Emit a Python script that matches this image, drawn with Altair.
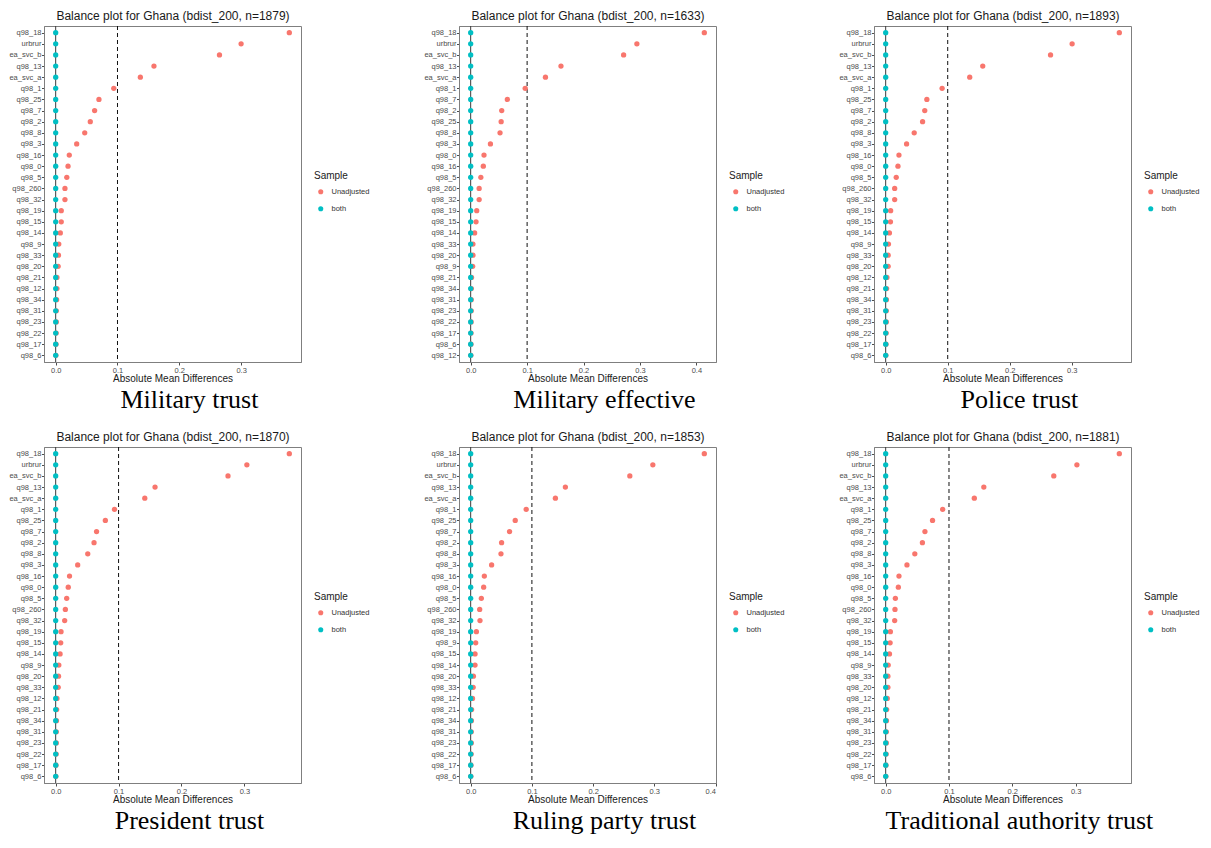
import altair as alt
import pandas as pd

captions = ["Military trust", "Military effective", "Police trust",
            "President trust", "Ruling party trust", "Traditional authority trust"]
sample_sizes = [1879, 1633, 1893, 1870, 1853, 1881]
legend_levels = ["Unadjusted", "both"]
legend_colors = ["#F8766D", "#00BFC4"]
threshold = [0.1]
zero_line = [0.0]
x_ticks = [0.0, 0.1, 0.2, 0.3, 0.4]

vars_mt = ["q98_18", "urbrur", "ea_svc_b", "q98_13", "ea_svc_a", "q98_1", "q98_25", "q98_7", "q98_2", "q98_8",
           "q98_3", "q98_16", "q98_0", "q98_5", "q98_260", "q98_32", "q98_19", "q98_15", "q98_14", "q98_9",
           "q98_33", "q98_20", "q98_21", "q98_12", "q98_34", "q98_31", "q98_23", "q98_22", "q98_17", "q98_6"]
unadj_mt = [0.378, 0.300, 0.265, 0.159, 0.137, 0.094, 0.070, 0.063, 0.056, 0.047,
            0.034, 0.022, 0.020, 0.018, 0.015, 0.015, 0.009, 0.009, 0.0075, 0.005,
            0.0045, 0.004, 0.002, 0.002, 0.0015, 0.001, 0.001, 0.0008, 0.0005, 0.0003]

vars_me = ["q98_18", "urbrur", "ea_svc_b", "q98_13", "ea_svc_a", "q98_1", "q98_7", "q98_2", "q98_25", "q98_8",
           "q98_3", "q98_0", "q98_16", "q98_5", "q98_260", "q98_32", "q98_19", "q98_15", "q98_14", "q98_33",
           "q98_20", "q98_9", "q98_21", "q98_34", "q98_31", "q98_23", "q98_22", "q98_17", "q98_6", "q98_12"]
unadj_me = [0.414, 0.2945, 0.271, 0.160, 0.1325, 0.0966, 0.065, 0.055, 0.054, 0.052,
            0.035, 0.0236, 0.0224, 0.018, 0.015, 0.015, 0.0107, 0.0095, 0.007, 0.004,
            0.004, 0.0035, 0.0015, 0.0012, 0.001, 0.001, 0.0008, 0.0006, 0.0005, 0.0003]

vars_pt = ["q98_18", "urbrur", "ea_svc_b", "q98_13", "ea_svc_a", "q98_1", "q98_25", "q98_7", "q98_2", "q98_8",
           "q98_3", "q98_16", "q98_0", "q98_5", "q98_260", "q98_32", "q98_19", "q98_15", "q98_14", "q98_9",
           "q98_33", "q98_20", "q98_12", "q98_21", "q98_34", "q98_31", "q98_23", "q98_22", "q98_17", "q98_6"]
unadj_pt = [0.3767, 0.3006, 0.2658, 0.1565, 0.1355, 0.091, 0.0664, 0.063, 0.0595, 0.046,
            0.0337, 0.0214, 0.0198, 0.017, 0.0145, 0.0145, 0.008, 0.0077, 0.006, 0.0045,
            0.004, 0.004, 0.002, 0.0015, 0.0012, 0.001, 0.001, 0.0008, 0.0005, 0.0003]

vars_pr = ["q98_18", "urbrur", "ea_svc_b", "q98_13", "ea_svc_a", "q98_1", "q98_25", "q98_7", "q98_2", "q98_8",
           "q98_3", "q98_16", "q98_0", "q98_5", "q98_260", "q98_32", "q98_19", "q98_15", "q98_14", "q98_9",
           "q98_20", "q98_33", "q98_12", "q98_21", "q98_34", "q98_31", "q98_23", "q98_22", "q98_17", "q98_6"]
unadj_pr = [0.3715, 0.304, 0.274, 0.158, 0.1417, 0.0935, 0.079, 0.065, 0.061, 0.051,
            0.035, 0.022, 0.020, 0.0175, 0.0154, 0.0143, 0.0085, 0.008, 0.007, 0.005,
            0.0045, 0.004, 0.002, 0.0015, 0.0012, 0.001, 0.001, 0.0008, 0.0005, 0.0003]

vars_rp = ["q98_18", "urbrur", "ea_svc_b", "q98_13", "ea_svc_a", "q98_1", "q98_25", "q98_7", "q98_2", "q98_8",
           "q98_3", "q98_16", "q98_0", "q98_5", "q98_260", "q98_32", "q98_19", "q98_9", "q98_15", "q98_14",
           "q98_20", "q98_33", "q98_12", "q98_21", "q98_34", "q98_31", "q98_23", "q98_22", "q98_17", "q98_6"]
unadj_rp = [0.3817, 0.2976, 0.260, 0.1547, 0.1384, 0.0907, 0.0728, 0.0635, 0.0505, 0.0495,
            0.0342, 0.0223, 0.0212, 0.0174, 0.0147, 0.0152, 0.0093, 0.0082, 0.0071, 0.0071,
            0.0044, 0.004, 0.003, 0.0015, 0.0012, 0.001, 0.001, 0.0008, 0.0005, 0.0003]

vars_ta = ["q98_18", "urbrur", "ea_svc_b", "q98_13", "ea_svc_a", "q98_1", "q98_25", "q98_7", "q98_2", "q98_8",
           "q98_3", "q98_16", "q98_0", "q98_5", "q98_260", "q98_32", "q98_19", "q98_15", "q98_14", "q98_9",
           "q98_33", "q98_20", "q98_12", "q98_21", "q98_34", "q98_31", "q98_23", "q98_22", "q98_17", "q98_6"]
unadj_ta = [0.369, 0.302, 0.2655, 0.155, 0.140, 0.090, 0.074, 0.062, 0.058, 0.046,
            0.0336, 0.021, 0.020, 0.0153, 0.0147, 0.0142, 0.0074, 0.007, 0.006, 0.004,
            0.0035, 0.0035, 0.0025, 0.0015, 0.0012, 0.001, 0.001, 0.0008, 0.0005, 0.0003]

adjusted = [0.0, 0.0, 0.0, 0.0, 0.0, 0.0, 0.0, 0.0, 0.0, 0.0,
            0.0, 0.0, 0.0, 0.0, 0.0, 0.0, 0.0, 0.0, 0.0, 0.0,
            0.0, 0.0, 0.0, 0.0, 0.0, 0.0, 0.0, 0.0, 0.0, 0.0]

panel_vars = [vars_mt, vars_me, vars_pt, vars_pr, vars_rp, vars_ta]
panel_unadj = [unadj_mt, unadj_me, unadj_pt, unadj_pr, unadj_rp, unadj_ta]

SANS = "Liberation Sans"
SERIF = "Liberation Serif"
W, H = 257, 336


def panel(vars_, unadj, n, caption):
    df = pd.DataFrame({
        "variable": list(vars_) + list(vars_),
        "value": list(unadj) + adjusted,
        "Sample": [legend_levels[0]] * len(vars_) + [legend_levels[1]] * len(vars_),
    })
    vmax = max(unadj)
    dom = [-0.05 * vmax, 1.05 * vmax]
    xscale = alt.Scale(domain=dom, nice=False, zero=False)
    ticks = [t for t in x_ticks if t <= dom[1] + 1e-9]

    bottom_axis = alt.Axis(title="Absolute Mean Differences", values=ticks, format=".1f",
                           grid=False, titlePadding=0, labelPadding=1)
    top_axis = alt.Axis(orient="top", title=f"Balance plot for Ghana (bdist_200, n={n})",
                        labels=False, ticks=False, domain=False, grid=False,
                        titleFontSize=12, titlePadding=4, titleFont=SANS,
                        titleFontWeight="normal", titleColor="#1a1a1a")

    dash = alt.Chart(pd.DataFrame({"x": threshold})).mark_rule(
        color="#111111", strokeDash=[4, 3], strokeWidth=1
    ).encode(x=alt.X("x:Q", scale=xscale, axis=top_axis))

    zero = alt.Chart(pd.DataFrame({"x": zero_line})).mark_rule(
        color="#3a3a3a", strokeWidth=1
    ).encode(x=alt.X("x:Q", scale=xscale, axis=None))

    pts = alt.Chart(df).mark_circle(size=28, opacity=1).encode(
        x=alt.X("value:Q", scale=xscale, axis=bottom_axis),
        y=alt.Y("variable:N", sort=list(vars_),
                scale=alt.Scale(type="point", padding=0.6),
                axis=alt.Axis(title=None, grid=False, labelPadding=0.5, tickSize=2.5)),
        color=alt.Color("Sample:N",
                        scale=alt.Scale(domain=legend_levels, range=legend_colors),
                        legend=alt.Legend(orient="none", legendX=270, legendY=145,
                                          title="Sample", titleFont=SANS, titleFontSize=10,
                                          titleFontWeight="normal", titleColor="#1a1a1a",
                                          titlePadding=7, labelFont=SANS, labelFontSize=7.5,
                                          labelColor="#333333", symbolType="circle",
                                          symbolSize=26, symbolStrokeWidth=0,
                                          symbolOpacity=1, symbolOffset=3, labelOffset=7,
                                          rowPadding=8, padding=0)),
    )

    return alt.layer(dash, zero, pts).resolve_axis(x="independent").properties(
        width=W, height=H,
        title=alt.TitleParams(caption, orient="bottom", anchor="middle", frame="bounds",
                              font=SERIF, fontSize=26, fontWeight="normal",
                              color="black", offset=3),
    )


panels = [panel(v, u, n, c) for v, u, n, c in zip(panel_vars, panel_unadj, sample_sizes, captions)]

chart = alt.concat(
    *panels, columns=3, spacing={"row": 85, "column": 158}, bounds="flush"
).resolve_scale(
    x="independent", y="independent", color="independent"
).configure(
    background="white"
).configure_axis(
    labelFont=SANS, labelFontSize=7.5, labelColor="#4d4d4d",
    tickColor="#4d4d4d", tickSize=3, domainColor="#7f7f7f",
    titleFont=SANS, titleFontSize=10, titleFontWeight="normal", titleColor="#1a1a1a",
).configure_view(
    stroke="#7f7f7f", strokeWidth=1
).properties(padding={"top": 0, "left": 0, "right": 0, "bottom": 0})

chart.save("out.html", embed_options={"renderer": "svg", "actions": False})
